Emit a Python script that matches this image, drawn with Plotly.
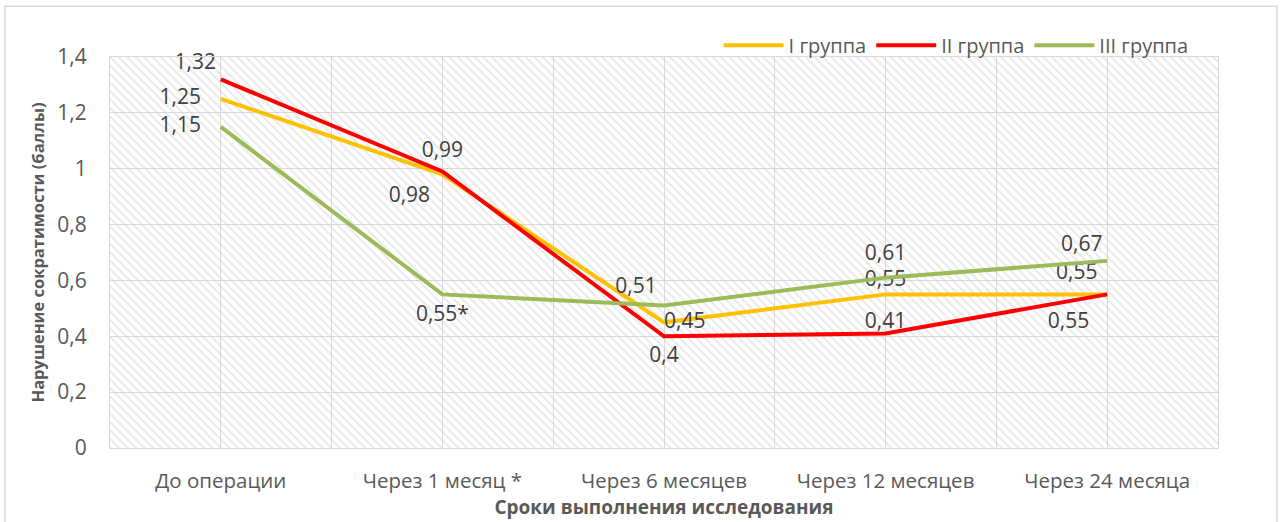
import plotly.graph_objects as go

# categories on the x axis
periods = ["До операции", "Через 1 месяц *", "Через 6 месяцев", "Через 12 месяцев", "Через 24 месяца"]

group1 = [1.25, 0.98, 0.45, 0.55, 0.55]
group2 = [1.32, 0.99, 0.40, 0.41, 0.55]
group3 = [1.15, 0.55, 0.51, 0.61, 0.67]

group1_labels = ["1,25", "0,98", "0,45", "0,55", "0,55"]
group2_labels = ["1,32", "0,99", "0,4", "0,41", "0,55"]
group3_labels = ["1,15", "0,55*", "0,51", "0,61", "0,67"]

y_ticks = [0, 0.2, 0.4, 0.6, 0.8, 1, 1.2, 1.4]

FONT = "Open Sans"
GREY = "#595959"
xs = list(range(len(periods)))

fig = go.Figure()

# hatched plot background
fig.add_trace(go.Scatter(
    x=[-0.5, 4.5, 4.5, -0.5, -0.5], y=[0, 0, 1.4, 1.4, 0],
    mode="lines", line=dict(width=0), fill="toself",
    fillcolor="rgba(0,0,0,0)",
    fillpattern=dict(shape="\\", fgcolor="#cfcfcf", bgcolor="rgba(0,0,0,0)", size=6, solidity=0.3),
    hoverinfo="skip", showlegend=False,
))

# name, values, labels, colour, label position, label gap (invisible marker size)
series = [
    ("I группа", group1, group1_labels, "#FFC000",
     ["middle left", "bottom left", "middle right", "top center", "top left"],
     [30, 18, 0, 4, 14]),
    ("II группа", group2, group2_labels, "#FF0000",
     ["top left", "top center", "bottom center", "top center", "bottom left"],
     [6, 14, 14, 0, 27]),
    ("III группа", group3, group3_labels, "#9BBB59",
     ["middle left", "bottom center", "top left", "top center", "top left"],
     [30, 15, 10, 18, 6]),
]

for name, vals, labels, color, pos, gap in series:
    # invisible markers just push the data labels away from the points
    fig.add_trace(go.Scatter(
        x=xs, y=vals, name=name, mode="lines+markers+text",
        line=dict(color=color, width=4),
        marker=dict(size=gap, color="rgba(0,0,0,0)", line=dict(width=0, color="rgba(0,0,0,0)")),
        text=labels, textposition=pos,
        textfont=dict(family=FONT, size=21, color="#404040"),
        cliponaxis=False,
    ))

fig.update_xaxes(
    range=[-0.5, 4.5], tickmode="array", tickvals=xs, ticktext=periods,
    showgrid=True, gridcolor="#d9d9d9", gridwidth=1,
    minor=dict(tickmode="linear", tick0=-0.5, dtick=1, showgrid=True, gridcolor="#d9d9d9"),
    showline=True, linecolor="#d9d9d9", mirror=True, zeroline=False, automargin=False,
    tickfont=dict(family=FONT, size=20.5, color=GREY), ticks="", ticklabelstandoff=14,
    title=dict(text="<b>Сроки выполнения исследования</b>", font=dict(family=FONT, size=19, color=GREY), standoff=4),
)
fig.update_yaxes(
    range=[0, 1.4], tickmode="array", tickvals=y_ticks,
    showgrid=True, gridcolor="#d9d9d9", gridwidth=1,
    showline=True, linecolor="#d9d9d9", mirror=True, zeroline=False, automargin=False,
    tickfont=dict(family=FONT, size=21, color=GREY), ticks="", ticklabelstandoff=18,
    title=dict(text="<b>Нарушение сократимости (баллы)</b>", font=dict(family=FONT, size=16.5, color=GREY), standoff=8),
)

# outer chart border
fig.add_shape(type="rect", xref="paper", yref="paper",
              x0=-0.0948, x1=1.0532, y0=-0.25, y1=1.13,
              line=dict(color="#d9d9d9", width=1.5), layer="below")

fig.update_layout(
    width=1285, height=522,
    margin=dict(l=110, r=67, t=57, b=74, autoexpand=False),
    separators=", ",
    paper_bgcolor="white", plot_bgcolor="white",
    font=dict(family=FONT, color=GREY),
    showlegend=True,
    legend=dict(orientation="h", x=0.978, xanchor="right", y=1.03, yanchor="middle",
                font=dict(family=FONT, size=20, color=GREY), bgcolor="rgba(0,0,0,0)",
                itemwidth=60, tracegroupgap=0),
)

# drop the default page margin so the figure sits at the window's top-left corner
fig.write_html("out.html", config={"displayModeBar": False},
               post_script="document.body.style.margin='0px';")
